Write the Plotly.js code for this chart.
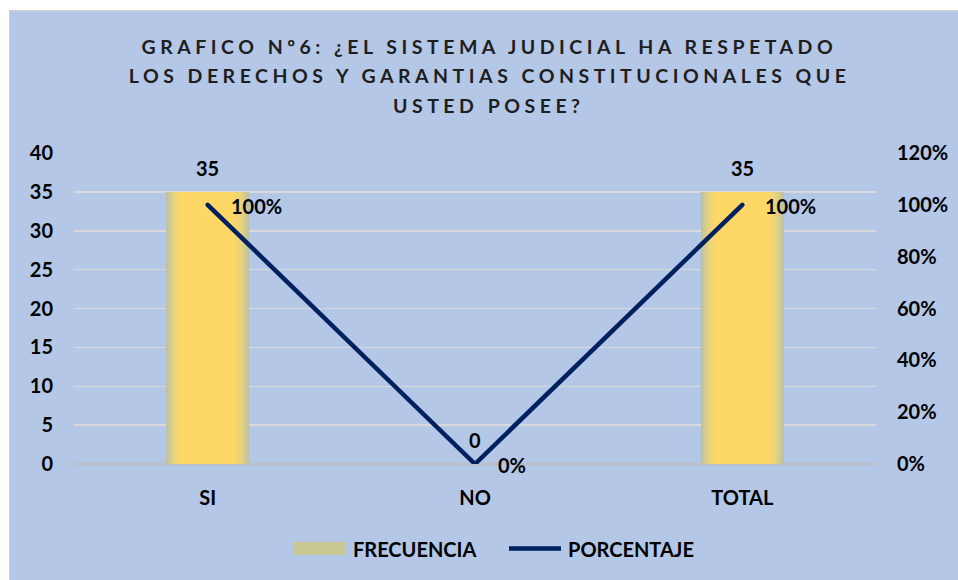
<!DOCTYPE html>
<html>
<head>
<meta charset="utf-8">
<script src="https://cdn.plot.ly/plotly-3.0.1.min.js"></script>
<style>
  html, body { margin: 0; padding: 0; background: #ffffff; }
  #wrap { position: absolute; left: 9px; top: 10px; width: 949px; height: 570px;
          border-left: 1px solid #d0d0d0; border-top: 1px solid #d0d0d0; }
  #chart { width: 948px; height: 569px; }
</style>
</head>
<body>
<div id="wrap"><div id="chart"></div></div>
<script>
// ---- data ----
const categories = ["SI", "NO", "TOTAL"];
const frecuencia = [35, 0, 35];
const porcentaje = [1.00, 0.00, 1.00];
const frecuenciaLabels = ["35", "0", "35"];
const porcentajeLabels = ["100%", "0%", "100%"];
const leftTicks = [0, 5, 10, 15, 20, 25, 30, 35, 40];
const rightTicks = [0, 0.2, 0.4, 0.6, 0.8, 1.0, 1.2];
const rightTickLabels = ["0%", "20%", "40%", "60%", "80%", "100%", "120%"];
const seriesNames = ["FRECUENCIA", "PORCENTAJE"];
const titleLines = ["GRAFICO Nº6: ¿EL SISTEMA JUDICIAL HA RESPETADO",
                    "LOS DERECHOS Y GARANTIAS CONSTITUCIONALES QUE",
                    "USTED POSEE?"];

const FONT = "Lato, 'Open Sans', sans-serif";
const FS = 20;
const txt = { family: FONT, size: FS, color: "#000000", weight: 700 };

// layout geometry (div coords; the div sits at page offset 10,11)
const W = 948, H = 569;
const M = { l: 64, r: 82, t: 142, b: 116 };
const PW = W - M.l - M.r, PH = H - M.t - M.b;
const px = x => (x - 10 - M.l) / PW;          // page x -> paper fraction
const py = y => (H - M.b - (y - 11)) / PH;    // page y -> paper fraction

const traces = [
  {
    type: "bar", name: seriesNames[0], x: categories, y: frecuencia,
    width: 0.31,
    marker: { color: "#FED866", line: { width: 0 } },
    hoverinfo: "skip", showlegend: false
  },
  {
    type: "scatter", mode: "lines", name: seriesNames[1], x: categories, y: porcentaje,
    yaxis: "y2",
    line: { color: "#002060", width: 4.5 },
    hoverinfo: "skip", showlegend: false
  }
];

const annotations = [];
// chart title, one annotation per line
const titleCenters = [46, 75.5, 105];
titleLines.forEach((t, i) => {
  annotations.push({ xref: "paper", yref: "paper", x: px(489), y: py(titleCenters[i]),
    xanchor: "center", yanchor: "middle", text: "<b>" + t + "</b>", showarrow: false,
    font: { family: FONT, size: 19.5, color: "#1E1E1E" } });
});
const nTitle = annotations.length;
categories.forEach((c, i) => {
  annotations.push({ x: c, y: frecuencia[i], xref: "x", yref: "y", text: "<b>" + frecuenciaLabels[i] + "</b>",
    showarrow: false, yshift: 24, font: txt });
  annotations.push({ x: c, y: porcentaje[i], xref: "x", yref: "y2", text: "<b>" + porcentajeLabels[i] + "</b>",
    showarrow: false, xanchor: "left", xshift: 21, yshift: -1, font: txt });
});
// manual legend labels
annotations.push({ xref: "paper", yref: "paper", x: px(351), y: py(549), xanchor: "left", yanchor: "middle",
  text: "<b>" + seriesNames[0] + "</b>", showarrow: false, font: txt });
annotations.push({ xref: "paper", yref: "paper", x: px(566), y: py(549), xanchor: "left", yanchor: "middle",
  text: "<b>" + seriesNames[1] + "</b>", showarrow: false, font: txt });

const shapes = [
  { type: "rect", xref: "paper", yref: "paper", x0: px(293), x1: px(345), y0: py(555), y1: py(542),
    fillcolor: "#C9C792", line: { width: 0 }, layer: "above" },
  { type: "line", xref: "paper", yref: "paper", x0: px(509), x1: px(561), y0: py(548.5), y1: py(548.5),
    line: { color: "#002060", width: 4.5 }, layer: "above" }
];

const layout = {
  width: W, height: H,
  paper_bgcolor: "#B4C7E7", plot_bgcolor: "rgba(0,0,0,0)",
  margin: M,
  font: { family: FONT, color: "#000000" },
  showlegend: false,
  xaxis: {
    type: "category", showgrid: false, zeroline: false, showline: false,
    ticks: "", ticklabelstandoff: 20, tickfont: txt
  },
  yaxis: {
    range: [0, 40], tickvals: leftTicks, ticktext: leftTicks.map(String),
    showgrid: true, gridcolor: "#D9D9D9", gridwidth: 1.5,
    zeroline: true, zerolinecolor: "#BFBFBF", zerolinewidth: 2.5,
    showline: false, ticks: "", ticklabelstandoff: 20, tickfont: txt
  },
  yaxis2: {
    range: [0, 1.2], overlaying: "y", side: "right",
    tickvals: rightTicks, ticktext: rightTickLabels,
    showgrid: false, zeroline: false, showline: false, ticks: "", ticklabelstandoff: 20, tickfont: txt
  },
  annotations: annotations,
  shapes: shapes
};

Plotly.newPlot("chart", traces, layout, { displayModeBar: false, staticPlot: true }).then(() => {
  const svg = document.querySelector("#chart svg.main-svg");
  // title letter spacing
  document.querySelectorAll("#chart g.annotation").forEach(g => {
    const idx = +g.getAttribute("data-index");
    if (idx < nTitle) {
      const t = g.querySelector("text.annotation-text");
      if (t) t.style.letterSpacing = "4.5px";
    }
  });
  // round line caps
  document.querySelectorAll("#chart .scatterlayer path.js-line").forEach(el => {
    el.style.strokeLinecap = "round";
  });
  // soft-edged bar fill
  const ns = "http://www.w3.org/2000/svg";
  let defs = svg.querySelector("defs");
  if (!defs) { defs = document.createElementNS(ns, "defs"); svg.insertBefore(defs, svg.firstChild); }
  const g = document.createElementNS(ns, "linearGradient");
  g.setAttribute("id", "barGrad");
  g.setAttribute("x1", "0"); g.setAttribute("x2", "1"); g.setAttribute("y1", "0"); g.setAttribute("y2", "0");
  [["0", "#B9C1A3"], ["0.1", "#EAD37A"], ["0.2", "#FED866"], ["0.8", "#FED866"], ["0.9", "#EAD37A"], ["1", "#B9C1A3"]]
    .forEach(([o, c]) => {
      const s = document.createElementNS(ns, "stop");
      s.setAttribute("offset", o); s.setAttribute("stop-color", c);
      g.appendChild(s);
    });
  defs.appendChild(g);
  document.querySelectorAll("#chart .barlayer .point path").forEach(p => { p.style.fill = "url(#barGrad)"; });
});
</script>
</body>
</html>
